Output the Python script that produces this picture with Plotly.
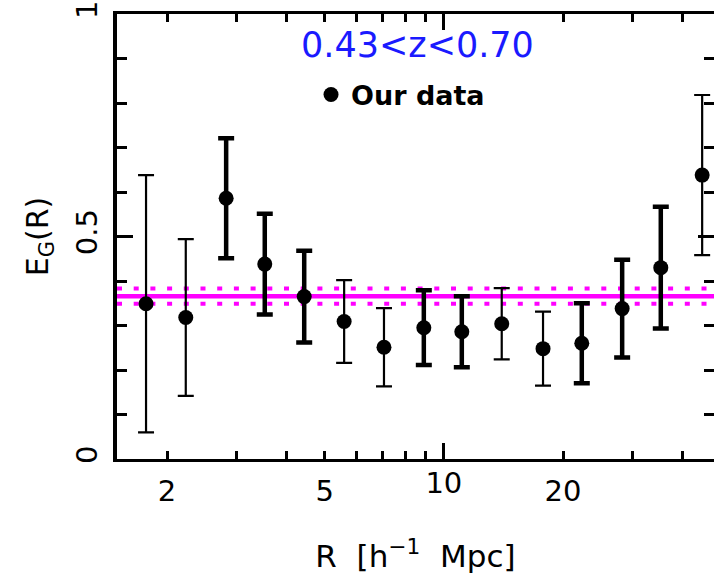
import math
import plotly.graph_objects as go

# Projected separation bins [h^-1 Mpc] and the E_G(R) estimates in each bin
r_bins = [1.77, 2.23, 2.82, 3.53, 4.44, 5.60, 7.06, 8.90, 11.1, 14.0, 17.8, 22.3, 28.2, 35.3, 44.9]
eg_vals = [0.349, 0.318, 0.586, 0.438, 0.365, 0.309, 0.251, 0.295, 0.286, 0.304,
           0.248, 0.260, 0.338, 0.430, 0.638]
eg_errs = [0.289, 0.176, 0.135, 0.113, 0.103, 0.093, 0.088, 0.084, 0.080, 0.080,
           0.083, 0.090, 0.110, 0.137, 0.180]
# bins drawn with heavy error bars
heavy = [False, False, True, True, True, False, False, True, True, False,
         False, True, True, True, False]

# mean E_G over the scale range and its 1-sigma uncertainty
eg_mean = 0.366
eg_mean_err = 0.017

z_label = "0.43<z<0.70"

x_ticks = [2, 3, 4, 5, 6, 7, 8, 9, 20, 30, 40]
x_tick_text = ["2", "", "", "5", "", "", "", "", "20", "", ""]
x_range = [math.log10(1.495), math.log10(48.1)]

FONT = "DejaVu Sans"
MAGENTA = "#ff00ff"


def pick(seq, flag):
    return [v for v, h in zip(seq, heavy) if h == flag]


fig = go.Figure()

fig.add_trace(go.Scatter(
    x=pick(r_bins, True), y=pick(eg_vals, True),
    mode="markers", name="Our data",
    marker=dict(color="black", size=15, symbol="circle"),
    error_y=dict(type="data", array=pick(eg_errs, True), visible=True,
                 color="black", thickness=4.5, width=8),
    showlegend=True,
))
fig.add_trace(go.Scatter(
    x=pick(r_bins, False), y=pick(eg_vals, False),
    mode="markers", name="Our data",
    marker=dict(color="black", size=15, symbol="circle"),
    error_y=dict(type="data", array=pick(eg_errs, False), visible=True,
                 color="black", thickness=2.2, width=8),
    showlegend=False,
    xaxis="x2", yaxis="y2",
))

# mean value (solid) and its +/- 1 sigma band edges (dotted)
fig.add_shape(type="line", xref="paper", yref="y", x0=0, x1=1,
              y0=eg_mean, y1=eg_mean, layer="below",
              line=dict(color=MAGENTA, width=4.5))
for s in (-1, 1):
    yv = eg_mean + s * eg_mean_err
    fig.add_shape(type="line", xref="paper", yref="y", x0=0, x1=1,
                  y0=yv, y1=yv, layer="below",
                  line=dict(color=MAGENTA, width=4, dash="5px,11.7px"))

fig.add_annotation(text=z_label, xref="paper", yref="paper",
                   x=0.504, y=0.93, xanchor="center", yanchor="middle",
                   showarrow=False,
                   font=dict(family=FONT, size=35, color="#1a1aff"))

tick_font = dict(family=FONT, size=29, color="black")

fig.update_layout(
    width=714, height=574,
    margin=dict(l=117, r=0, t=12, b=115),
    paper_bgcolor="white", plot_bgcolor="white",
    font=dict(family=FONT, color="black"),
    showlegend=True,
    legend=dict(x=0.325, y=0.818, xanchor="left", yanchor="middle",
                bgcolor="rgba(0,0,0,0)", borderwidth=0,
                font=dict(family=FONT, size=27, color="black", weight="bold")),
    xaxis=dict(
        type="log", range=x_range, autorange=False,
        showgrid=False, zeroline=False,
        showline=True, linewidth=3, linecolor="black", mirror="ticks",
        tickmode="array", tickvals=x_ticks, ticktext=x_tick_text,
        ticks="inside", ticklen=8, tickwidth=2.5, tickcolor="black",
        tickfont=tick_font, ticklabelstandoff=4,
        title=dict(text="R  [h<sup>\u22121</sup>  Mpc]", standoff=40,
                   font=dict(family=FONT, size=31, color="black")),
    ),
    xaxis2=dict(
        type="log", range=x_range, autorange=False, overlaying="x",
        anchor="y", side="bottom",
        showgrid=False, zeroline=False, showline=False, mirror="ticks",
        tickmode="array", tickvals=[10], ticktext=["10"],
        ticks="inside", ticklen=16, tickwidth=2.5, tickcolor="black",
        tickfont=tick_font, ticklabelstandoff=4,
    ),
    yaxis=dict(
        range=[0, 1], autorange=False,
        showgrid=False, zeroline=False,
        showline=True, linewidth=4, linecolor="black",
        tickmode="array", tickvals=[0, 0.5, 1], ticktext=["0", "0.5", "1"],
        ticks="inside", ticklen=16, tickwidth=2.5, tickcolor="black",
        tickangle=-90, tickfont=tick_font, ticklabelstandoff=4,
        ticklabeloverflow="allow",
        minor=dict(tickmode="array", tickvals=[0.1, 0.2, 0.3, 0.4, 0.6, 0.7, 0.8, 0.9],
                   ticks="inside", ticklen=10, tickwidth=2.5, tickcolor="black",
                   showgrid=False),
        title=dict(text="E<sub>G</sub>(R)", standoff=14,
                   font=dict(family=FONT, size=30, color="black")),
    ),
    yaxis2=dict(
        range=[0, 1], autorange=False, overlaying="y", side="right", anchor="x",
        showgrid=False, zeroline=False, showline=False, showticklabels=False,
        tickmode="array", tickvals=[0, 0.5, 1],
        ticks="inside", ticklen=16, tickwidth=2.5, tickcolor="black",
        minor=dict(tickmode="array", tickvals=[0.1, 0.2, 0.3, 0.4, 0.6, 0.7, 0.8, 0.9],
                   ticks="inside", ticklen=10, tickwidth=2.5, tickcolor="black",
                   showgrid=False),
    ),
)

fig.write_html("out.html")
